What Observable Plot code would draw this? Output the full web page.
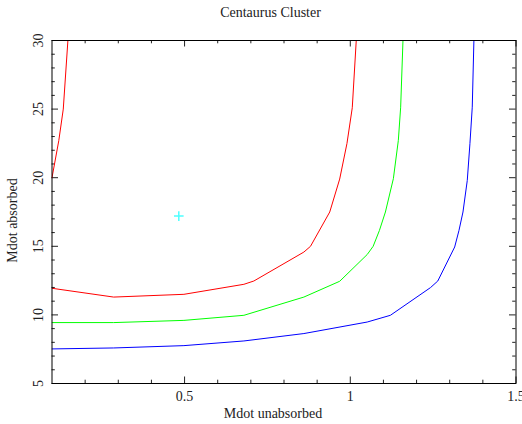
<!DOCTYPE html>
<html>
<head>
<meta charset="utf-8">
<script src="https://cdn.jsdelivr.net/npm/d3@7"></script>
<script src="https://cdn.jsdelivr.net/npm/@observablehq/plot@0.6"></script>
<style>
  html, body { margin: 0; padding: 0; background: #fff; }
  #chart svg { display: block; }
</style>
</head>
<body>
<div id="chart"></div>
<script>
// ---- data ----
const title = "Centaurus Cluster";
const xLabel = "Mdot unabsorbed";
const yLabel = "Mdot absorbed";

const xMajorTicks = [0.5, 1, 1.5];
const xMajorLabels = ["0.5", "1", "1.5"];
const xMinorTicks = [0.2, 0.3, 0.4, 0.6, 0.7, 0.8, 0.9, 1.1, 1.2, 1.3, 1.4];
const yMajorTicks = [5, 10, 15, 20, 25, 30];
const yMajorLabels = ["5", "10", "15", "20", "25", "30"];
const yMinorTicks = [6, 7, 8, 9, 11, 12, 13, 14, 16, 17, 18, 19, 21, 22, 23, 24, 26, 27, 28, 29];

// red contour, lower branch
const redLowX = [0.100, 0.286, 0.498, 0.679, 0.709, 0.860, 0.880, 0.938, 0.968, 0.990, 1.006, 1.018];
const redLowY = [11.94, 11.30, 11.50, 12.23, 12.47, 14.58, 15.00, 17.50, 19.90, 22.50, 25.10, 30.00];
// red contour, upper-left branch
const redLeftX = [0.100, 0.1205, 0.134, 0.148];
const redLeftY = [20.00, 22.70, 25.00, 30.00];
// green contour
const greenX = [0.100, 0.286, 0.498, 0.679, 0.860, 0.968, 1.051, 1.069, 1.088, 1.106, 1.130, 1.145, 1.152, 1.159];
const greenY = [9.44, 9.44, 9.60, 9.97, 11.30, 12.45, 14.40, 15.00, 16.16, 17.50, 19.93, 22.72, 25.14, 30.00];
// blue contour
const blueX = [0.100, 0.286, 0.498, 0.679, 0.860, 1.051, 1.121, 1.242, 1.264, 1.315, 1.328, 1.340, 1.353, 1.361, 1.368, 1.373];
const blueY = [7.52, 7.59, 7.76, 8.10, 8.64, 9.48, 9.97, 11.99, 12.47, 14.95, 16.16, 17.50, 19.80, 22.48, 25.14, 30.00];
// best-fit marker
const bestX = [0.4826];
const bestY = [17.2];

// ---- build tables ----
const toPts = (xs, ys, id) => xs.map((x, i) => ({x, y: ys[i], id}));
const redLow = toPts(redLowX, redLowY, "redLow");
const redLeft = toPts(redLeftX, redLeftY, "redLeft");
const green = toPts(greenX, greenY, "green");
const blue = toPts(blueX, blueY, "blue");
const best = toPts(bestX, bestY, "best");

const W = 522, H = 424;
const mL = 51.5, mR = 6.5, mT = 40, mB = 41;
const pw = W - mL - mR, ph = H - mT - mB;
const major = 6.5, minor = 3.3;
const tickColor = "#222";
const font = "'Liberation Serif', 'Times New Roman', serif";

const xMaj = xMajorTicks.map((v, i) => ({v, label: xMajorLabels[i]}));
const yMaj = yMajorTicks.map((v, i) => ({v, label: yMajorLabels[i]}));

const chart = Plot.plot({
  width: W, height: H,
  marginLeft: mL, marginRight: mR, marginTop: mT, marginBottom: mB,
  x: {domain: [0.1, 1.5], axis: null},
  y: {domain: [5, 30], axis: null},
  style: {fontFamily: font, fontSize: "14px", color: "#222", background: "#fff"},
  marks: [
    // inward ticks, all four sides
    Plot.tickX(xMajorTicks, {x: d => d, insetTop: ph - major, stroke: tickColor}),
    Plot.tickX(xMajorTicks, {x: d => d, insetBottom: ph - major, stroke: tickColor}),
    Plot.tickX(xMinorTicks, {x: d => d, insetTop: ph - minor, stroke: tickColor}),
    Plot.tickX(xMinorTicks, {x: d => d, insetBottom: ph - minor, stroke: tickColor}),
    Plot.tickY(yMajorTicks, {y: d => d, insetRight: pw - major, stroke: tickColor}),
    Plot.tickY(yMajorTicks, {y: d => d, insetLeft: pw - major, stroke: tickColor}),
    Plot.tickY(yMinorTicks, {y: d => d, insetRight: pw - minor, stroke: tickColor}),
    Plot.tickY(yMinorTicks, {y: d => d, insetLeft: pw - minor, stroke: tickColor}),
    // tick labels
    Plot.text(xMaj, {x: "v", text: "label", frameAnchor: "bottom", textAnchor: "middle", lineAnchor: "bottom", dy: 17, fill: "#222"}),
    Plot.text(yMaj, {y: "v", text: "label", frameAnchor: "left", textAnchor: "middle", lineAnchor: "middle", rotate: -90, dx: -13, fill: "#222"}),
    // axis labels and title
    Plot.text([xLabel], {text: d => d, frameAnchor: "bottom", textAnchor: "middle", lineAnchor: "bottom", dx: -11, dy: 34, fill: "#222"}),
    Plot.text([yLabel], {text: d => d, frameAnchor: "left", textAnchor: "middle", lineAnchor: "middle", rotate: -90, dx: -39, dy: 8.5, fill: "#222"}),
    Plot.text([title], {text: d => d, frameAnchor: "top", textAnchor: "middle", lineAnchor: "bottom", dx: -13.5, dy: -24, fill: "#222"}),
    // contours
    Plot.line(redLow, {x: "x", y: "y", stroke: "#ff0000", strokeWidth: 1, clip: true}),
    Plot.line(redLeft, {x: "x", y: "y", stroke: "#ff0000", strokeWidth: 1, clip: true}),
    Plot.line(green, {x: "x", y: "y", stroke: "#00ff00", strokeWidth: 1, clip: true}),
    Plot.line(blue, {x: "x", y: "y", stroke: "#0000ff", strokeWidth: 1, clip: true}),
    Plot.dot(best, {x: "x", y: "y", symbol: "plus", r: 3.2, stroke: "#00ffff", strokeOpacity: 0.7, strokeWidth: 1.5}),
    Plot.frame({stroke: "#000", strokeWidth: 1})
  ]
});
document.getElementById("chart").appendChild(chart);
</script>
</body>
</html>
